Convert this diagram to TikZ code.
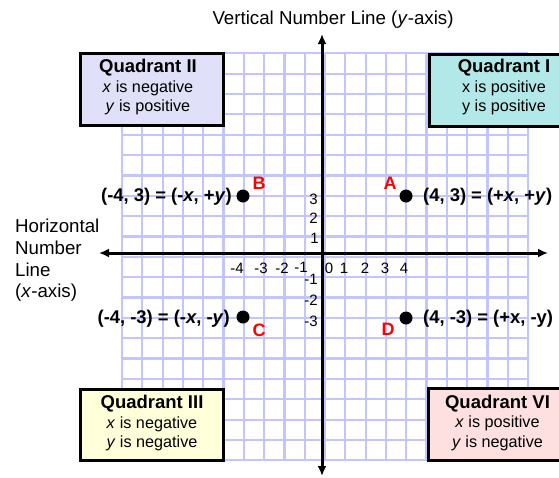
\documentclass[tikz,border=0pt]{standalone}
\usepackage{fontspec}
\setmainfont{Liberation Sans}
\usetikzlibrary{arrows.meta}
\definecolor{gridc}{RGB}{196,196,255}
\definecolor{qone}{RGB}{178,232,232}
\definecolor{qtwo}{RGB}{224,224,248}
\definecolor{qthree}{RGB}{255,255,218}
\definecolor{qsix}{RGB}{255,224,224}
\definecolor{ptred}{RGB}{255,0,0}
\newcommand\qtitlefont{\fontsize{18.5}{19.5}\selectfont\bfseries}
\begin{document}
\begin{tikzpicture}[x=1pt,y=-1pt,
  gridline/.style={draw=gridc,line width=2.2pt},
  axisline/.style={draw=black,line width=3pt,{Latex[length=10pt,width=9pt]}-{Latex[length=10pt,width=9pt]}},
  qbox/.style={draw=black,line width=3pt,inner sep=0pt,minimum height=72pt},
  qtext/.style={align=center,inner sep=0pt,font=\fontsize{16.2}{19.5}\selectfont},
  dot/.style={circle,fill=black,inner sep=0pt,minimum size=13pt},
  ptlab/.style={text=ptred,inner sep=0pt,font=\fontsize{18}{20}\selectfont\bfseries},
  coordtext/.style={inner sep=0pt,font=\fontsize{18.4}{20}\selectfont\bfseries},
  tick/.style={inner sep=0pt,font=\fontsize{15}{17}\selectfont},
  plain/.style={inner sep=0pt,font=\fontsize{18.7}{21.7}\selectfont}]
\clip (0,0) rectangle (559,477);
\fill[white] (0,0) rectangle (559,477);
% grid
\foreach \k in {0,...,20}{
  \draw[gridline] ({122+20.3*\k},53) -- ({122+20.3*\k},460);
  \draw[gridline] (122,{53.3+20.35*\k}) -- (528,{53.3+20.35*\k});
}
% quadrant boxes
\node[qbox,fill=qtwo,minimum width=143pt] (q2box) at (151.5,89) {};
\node[qbox,fill=qone,minimum width=150pt] (q1box) at (504,90) {};
\node[qbox,fill=qthree,minimum width=143pt,minimum height=71pt] (q3box) at (151.5,424.5) {};
\node[qbox,fill=qsix,minimum width=139pt] (q6box) at (497.5,424) {};
\node[qtext] (q2text) at (148,87) {{\qtitlefont Quadrant II}\\\textit{x} is negative\\\textit{y} is positive};
\node[qtext] (q1text) at (504,87) {{\qtitlefont Quadrant I}\\x is positive\\y is positive};
\node[qtext] (q3text) at (152,423) {{\qtitlefont Quadrant III}\\\textit{x} is negative\\\textit{y} is negative};
\node[qtext] (q6text) at (497.5,422.5) {{\qtitlefont Quadrant VI}\\\textit{x} is positive\\\textit{y} is negative};
% axes
\coordinate (ytop) at (322,34);
\coordinate (ybot) at (322,476);
\coordinate (xleft) at (99,253);
\coordinate (xright) at (548,253);
\draw[axisline] (ybot) -- (ytop);
\draw[axisline] (xleft) -- (xright);
% titles
\node[plain] (vtitle) at (333,20) {Vertical Number Line (\textit{y}-axis)};
\node[plain,align=left,anchor=west] (htitle) at (15,260.5) {Horizontal\\Number\\Line\\(\textit{x}-axis)};
% tick labels
\node[tick] (xm4) at (237,268) {-4};
\node[tick] (xm3) at (261,268) {-3};
\node[tick] (xm2) at (282,268) {-2};
\node[tick] (xm1) at (301,267) {-1};
\node[tick] (x0) at (329,268) {0};
\node[tick] (x1) at (344,268) {1};
\node[tick] (x2) at (365,268) {2};
\node[tick] (x3) at (385,268) {3};
\node[tick] (x4) at (404,268) {4};
\node[tick,anchor=east] (y3) at (318,199) {3};
\node[tick,anchor=east] (y2) at (318,218) {2};
\node[tick,anchor=east] (y1) at (319,238) {1};
\node[tick,anchor=east] (ym1) at (318,279) {-1};
\node[tick,anchor=east] (ym2) at (318,300) {-2};
\node[tick,anchor=east] (ym3) at (318,321) {-3};
% points
\node[dot] (A) at (406,196) {};
\node[dot] (B) at (243,196) {};
\node[dot] (C) at (243,317) {};
\node[dot] (D) at (406,318) {};
\node[ptlab] (Alab) at (390,183) {A};
\node[ptlab] (Blab) at (259,183) {B};
\node[ptlab] (Clab) at (259,330) {C};
\node[ptlab] (Dlab) at (388,329) {D};
\node[coordtext,anchor=west] (Atext) at (423,197) {(4, 3) = (+\textit{x}, +\textit{y})};
\node[coordtext,anchor=east] (Btext) at (232,197) {(-4, 3) = (-\textit{x}, +\textit{y})};
\node[coordtext,anchor=east] (Ctext) at (230,319) {(-4, -3) = (-\textit{x}, -\textit{y})};
\node[coordtext,anchor=west] (Dtext) at (423,319) {(4, -3) = (+x, -y)};
\end{tikzpicture}
\end{document}
